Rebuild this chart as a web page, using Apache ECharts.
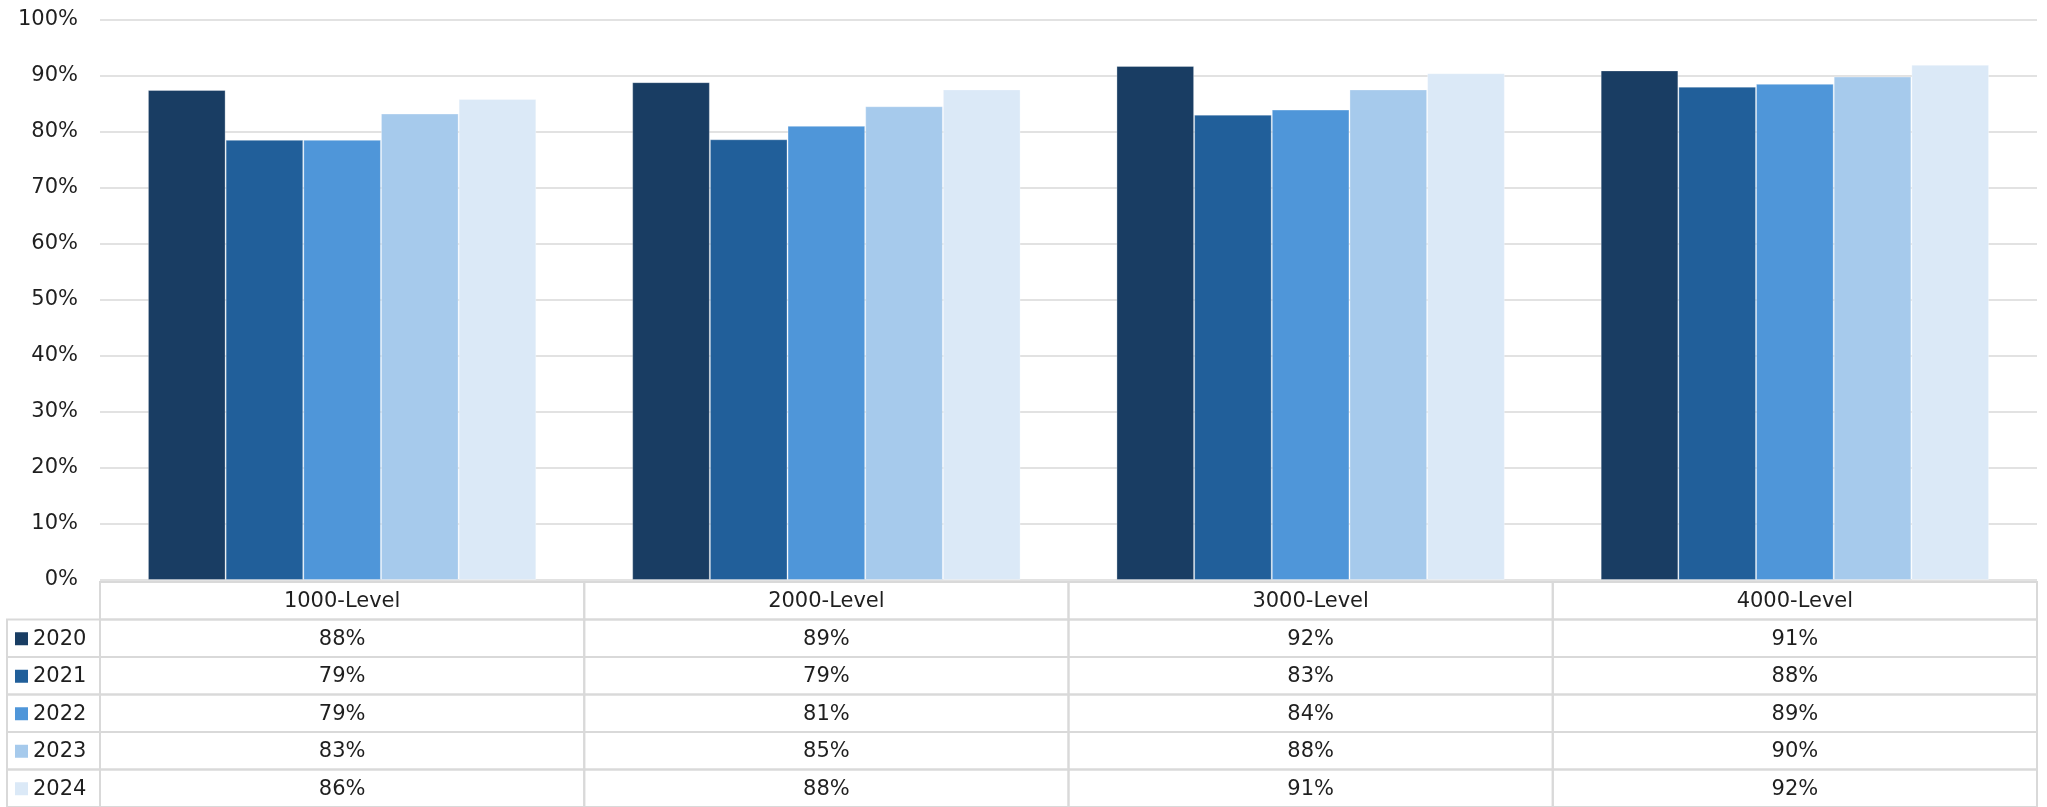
<!DOCTYPE html>
<html>
<head>
<meta charset="utf-8">
<script src="https://cdn.jsdelivr.net/npm/echarts@6/dist/echarts.min.js"></script>
<style>
html,body{margin:0;padding:0;background:#fff;}
#chart{width:2047px;height:807px;}
</style>
</head>
<body>
<div id="chart"></div>
<script>
// ---- data ----
const categories = ['1000-Level', '2000-Level', '3000-Level', '4000-Level'];
const years = ['2020', '2021', '2022', '2023', '2024'];
const values2020 = [87.5, 88.9, 91.8, 91.0];
const values2021 = [78.6, 78.7, 83.1, 88.1];
const values2022 = [78.6, 81.1, 84.0, 88.6];
const values2023 = [83.3, 84.6, 87.6, 89.9];
const values2024 = [85.9, 87.6, 90.5, 92.0];
const yTicks = [0, 10, 20, 30, 40, 50, 60, 70, 80, 90, 100];
const colors = ['#193d63', '#215f9a', '#4f96d9', '#a6caec', '#dbe9f7'];

const seriesValues = [values2020, values2021, values2022, values2023, values2024];
const FONT = '"DejaVu Sans", sans-serif';
const FS = 21;
const TXT = '#1f1f1f';
const LINE = '#d9d9d9';

const chart = echarts.init(document.getElementById('chart'), null, {renderer: 'canvas'});

const barSeries = years.map((y, i) => ({
  name: y,
  type: 'bar',
  xAxisIndex: 0,
  yAxisIndex: 0,
  data: seriesValues[i],
  barGap: '0%',
  barCategoryGap: '19.8%',
  itemStyle: { color: colors[i], borderColor: 'rgba(255,255,255,0.3)', borderWidth: 1 },
  animation: false
}));

// table cells: header row 0, data rows 1..5
const tableCells = [];
categories.forEach((c, ci) => {
  tableCells.push([ci, 0, c]);
  years.forEach((y, yi) => {
    tableCells.push([ci, yi + 1, Math.round(seriesValues[yi][ci]) + '%']);
  });
});
const legendCells = years.map((y, yi) => [0, yi + 1, y, yi]);

const rowNames = ['head'].concat(years);

const option = {
  backgroundColor: '#fff',
  animation: false,
  grid: [
    { left: 100, right: 10, top: 20, bottom: 227 },
    { left: 100, right: 10, top: 582, height: 228 }
  ],
  xAxis: [
    { type: 'category', gridIndex: 0, data: categories,
      axisLine: { show: false }, axisTick: { show: false }, axisLabel: { show: false }, splitLine: { show: false } },
    { type: 'category', gridIndex: 1, data: categories, show: false }
  ],
  yAxis: [
    { type: 'value', gridIndex: 0, min: 0, max: 100, interval: 10,
      axisLine: { show: false }, axisTick: { show: false },
      axisLabel: { formatter: v => yTicks.indexOf(v) >= 0 ? v + '%' : '', fontSize: FS, fontFamily: FONT, color: TXT, margin: 22, padding: [6, 0, 0, 0] },
      splitLine: { show: true, lineStyle: { color: LINE, width: 1.5 } } },
    { type: 'category', gridIndex: 1, data: rowNames, inverse: true, show: false }
  ],
  series: barSeries.concat([
    {
      type: 'custom',
      xAxisIndex: 1, yAxisIndex: 1,
      data: tableCells,
      silent: true,
      renderItem: function (params, api) {
        const p = api.coord([api.value(0), api.value(1)]);
        const s = api.size([1, 1]);
        const txt = tableCells[params.dataIndex][2];
        return {
          type: 'group',
          children: [
            { type: 'rect', shape: { x: p[0] - s[0] / 2, y: p[1] - s[1] / 2, width: s[0], height: s[1] },
              style: { fill: 'none', stroke: LINE, lineWidth: 2 } },
            { type: 'text', style: { x: p[0], y: p[1] + 1, text: txt, fill: TXT, font: FS + 'px ' + FONT,
              textAlign: 'center', textVerticalAlign: 'middle', align: 'center', verticalAlign: 'middle' } }
          ]
        };
      }
    },
    {
      type: 'custom',
      xAxisIndex: 1, yAxisIndex: 1,
      data: legendCells,
      silent: true,
      renderItem: function (params, api) {
        const p = api.coord([api.value(0), api.value(1)]);
        const s = api.size([1, 1]);
        const right = p[0] - s[0] / 2;
        const left = 7;
        const top = p[1] - s[1] / 2;
        const cell = legendCells[params.dataIndex];
        return {
          type: 'group',
          children: [
            { type: 'rect', shape: { x: left, y: top, width: right - left, height: s[1] },
              style: { fill: 'none', stroke: LINE, lineWidth: 2 } },
            { type: 'rect', shape: { x: left + 8, y: p[1] - 6, width: 13, height: 13 },
              style: { fill: colors[cell[3]] } },
            { type: 'text', style: { x: left + 26, y: p[1] + 1, text: cell[2], fill: TXT, font: FS + 'px ' + FONT,
              textAlign: 'left', textVerticalAlign: 'middle', align: 'left', verticalAlign: 'middle' } }
          ]
        };
      }
    }
  ])
};

chart.setOption(option);
</script>
</body>
</html>
